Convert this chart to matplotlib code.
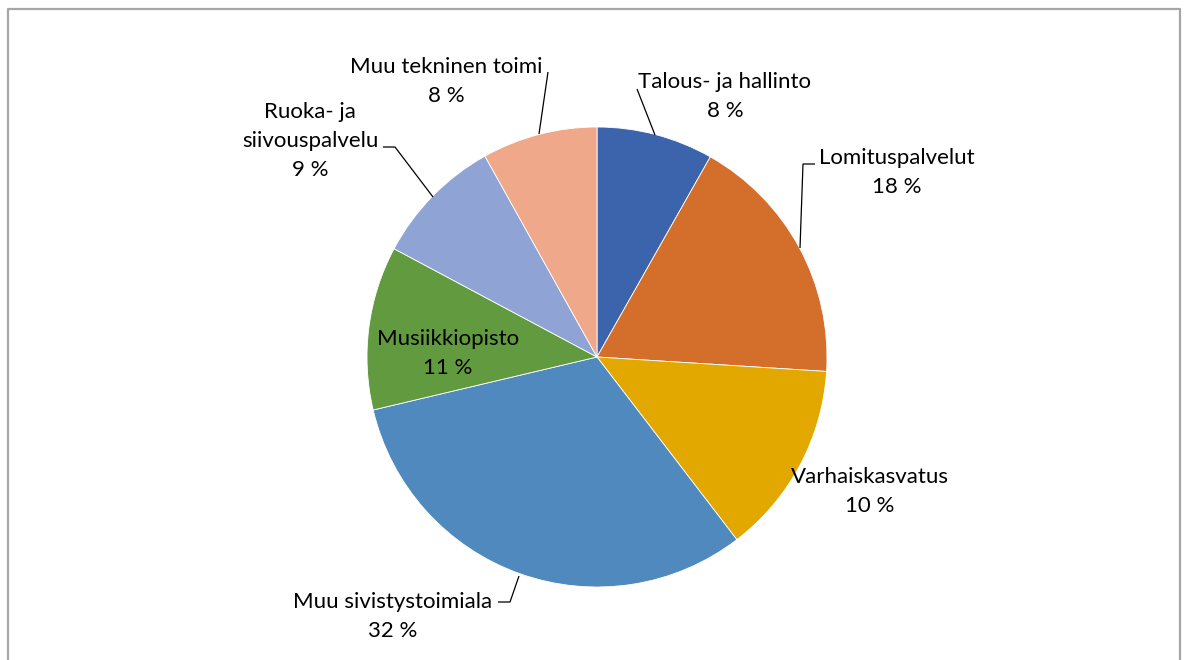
import matplotlib
matplotlib.use("Agg")
import matplotlib.pyplot as plt

categories = ["Talous- ja hallinto", "Lomituspalvelut", "Varhaiskasvatus",
              "Muu sivistystoimiala", "Musiikkiopisto", "Ruoka- ja\nsiivouspalvelu",
              "Muu tekninen toimi"]
values = [8.2, 17.8, 13.6, 31.7, 11.5, 9.1, 8.1]
pct_labels = ["8 %", "18 %", "10 %", "32 %", "11 %", "9 %", "8 %"]
colors = ["#3b64ad", "#d36e2b", "#e2a800", "#4f89bd", "#629b3f", "#8fa4d4", "#efa88a"]

plt.rcParams['font.family'] = ['Lato', 'DejaVu Sans']

W, H = 1184, 660
fig = plt.figure(figsize=(W / 100, H / 100), dpi=100)
ax = fig.add_axes([0, 0, 1, 1])

def Y(y):
    return H - y

cx, cy, r = 597, 357, 230
ax.pie(values, colors=colors, startangle=90, counterclock=False,
       center=(cx, Y(cy)), radius=r, frame=True,
       wedgeprops=dict(edgecolor="white", linewidth=0.6))
ax.set_xlim(0, W)
ax.set_ylim(0, H)
ax.axis("off")

# labels: (x center, y of first line)
label_pos = [(725, 82), (897, 158), (870, 477), (393, 602), (448, 339), (310, 112), (446, 67)]
fs = 16
for cat, pct, (lx, ly) in zip(categories, pct_labels, label_pos):
    lines = cat.split("\n") + [pct]
    for i, t in enumerate(lines):
        ax.text(lx, Y(ly + 29 * i), t, ha="center", va="center",
                fontsize=fs, color="#000000")

# leader lines
leaders = [
    [(655, 135), (637, 89)],
    [(800, 248), (803, 164), (815, 164)],
    [(519, 576), (510, 602), (498, 602)],
    [(433, 197), (395, 147), (383, 147)],
    [(539, 134), (548, 72)],
]
for pts in leaders:
    xs = [p[0] for p in pts]
    ys = [Y(p[1]) for p in pts]
    ax.plot(xs, ys, color="#000000", lw=0.9, solid_capstyle="butt")

# outer frame (no bottom edge visible)
fc = "#a6a6a6"
ax.plot([8, 8, 1180, 1180], [0, Y(9), Y(9), 0], color=fc, lw=1.6, clip_on=False)

fig.savefig("out.png", dpi=100)
